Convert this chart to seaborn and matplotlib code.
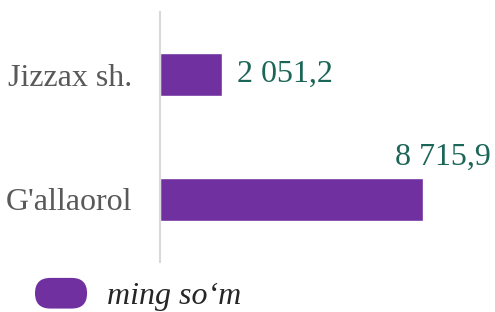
import matplotlib
matplotlib.use("Agg")
import matplotlib.pyplot as plt
import seaborn as sns
import pandas as pd
from matplotlib.patches import FancyBboxPatch, Patch
from matplotlib.legend_handler import HandlerPatch

categories = ["Jizzax sh.", "G'allaorol"]
values = [2051.2, 8715.9]
series_name = "ming so\u2018m"

BAR = "#7030A0"
VAL = "#1B6656"
CAT = "#595959"

sns.set_theme(style="white")
plt.rcParams["font.family"] = ["Liberation Serif", "DejaVu Serif"]

df = pd.DataFrame({"cat": categories, "val": values})

W, H = 495, 312
fig = plt.figure(figsize=(W / 100, H / 100), dpi=100)
ax = fig.add_axes([160 / W, (H - 262) / H, 320 / W, 250 / H])
sns.barplot(data=df, x="val", y="cat", orient="h", color=BAR, saturation=1,
            width=0.35, ax=ax)
ax.set_xlim(0, 10600)
ax.set_ylim(1.5, -0.5)
for s in ["top", "right", "bottom"]:
    ax.spines[s].set_visible(False)
ax.spines["left"].set_color("#D9D9D9")
ax.spines["left"].set_linewidth(1.5)
ax.set_xticks([])
ax.set_xlabel("")
ax.set_ylabel("")
ax.tick_params(axis="y", length=0, pad=20, labelsize=23, labelcolor=CAT)


def fmt(v):
    s = f"{v:,.1f}"
    return s.replace(",", " ").replace(".", ",")


ax.annotate(fmt(values[0]), xy=(values[0], 0), xytext=(11, 0),
            textcoords="offset points", ha="left", va="center",
            fontsize=23, color=VAL)
ax.annotate(fmt(values[1]), xy=(values[1], 1), xytext=(49, 30.5),
            textcoords="offset points", ha="right", va="center",
            fontsize=23, color=VAL, annotation_clip=False)


class PillHandler(HandlerPatch):
    def create_artists(self, legend, orig_handle, xdescent, ydescent,
                       width, height, fontsize, trans):
        p = FancyBboxPatch((-xdescent, -ydescent), width, height,
                           boxstyle=f"round,pad=0,rounding_size={height / 2}",
                           facecolor=BAR, edgecolor="none", transform=trans)
        return [p]


h = Patch(facecolor=BAR, label=series_name)
leg = fig.legend(handles=[h], handler_map={Patch: PillHandler()},
                 loc="center left", bbox_to_anchor=(35 / W, 17.5 / H),
                 bbox_transform=fig.transFigure, frameon=False,
                 borderpad=0, borderaxespad=0, handlelength=1.63,
                 handleheight=1.1, handletextpad=0.63,
                 prop={"size": 23, "style": "italic"})

fig.savefig("out.png", dpi=100)
